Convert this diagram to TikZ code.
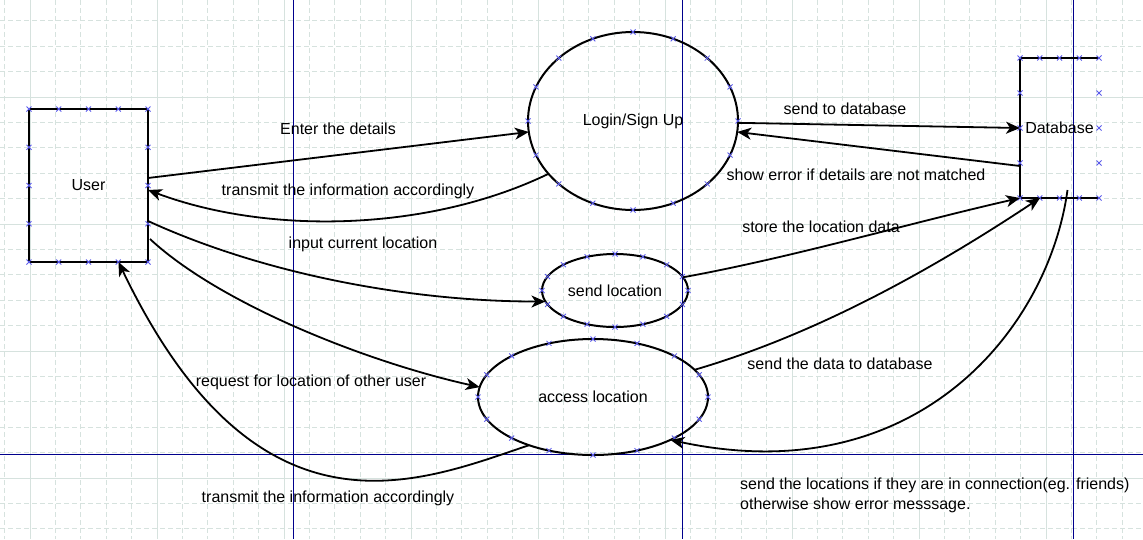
\documentclass[tikz,border=0pt]{standalone}
\usepackage{fontspec}
\setmainfont{Liberation Sans}
\usetikzlibrary{arrows.meta,shapes.geometric,calc}

\definecolor{gridline}{RGB}{214,226,222}
\definecolor{guideblue}{RGB}{0,0,140}
\definecolor{pinblue}{RGB}{90,90,235}

\tikzset{
  proc/.style={ellipse, draw, line width=2pt, inner sep=0pt, outer sep=0pt},
  flow/.style={line width=1.8pt, -{Stealth[length=14pt,width=12pt,inset=4pt]}},
  lbl/.style={inner sep=0pt, text height=11.5pt, text depth=3.5pt},
  pics/pin/.style={code={\draw[pinblue, line width=0.8pt] (-2.5,-2.5) -- (2.5,2.5) (-2.5,2.5) -- (2.5,-2.5);}}
}

\begin{document}
\begin{tikzpicture}[x=1pt, y=-1pt, font=\fontsize{16}{20}\selectfont]
			\useasboundingbox (0,0) rectangle (1143,539);
			% Grid
			\foreach \i in {0,...,44} {
				\draw[gridline, line width=1pt, dash pattern=on 5pt off 3pt] ({4.6+25.4*\i},0) -- ++(0,539);
			}
			\foreach \j in {0,...,20} {
				\draw[gridline, line width=1pt, dash pattern=on 5pt off 3pt] (0,{20.8+25.4*\j}) -- ++(1143,0);
			}
			\foreach \i in {0,...,8} {
				\draw[gridline, line width=1pt] ({30+127*\i},0) -- ++(0,539);
			}
			\foreach \j in {0,...,3} {
				\draw[gridline, line width=1pt] (0,{97+127*\j}) -- ++(1143,0);
			}
			\foreach \gx in {293.3,682.7,1073.3} {
				\draw[guideblue, line width=1pt] (\gx,0) -- ++(0,539);
			}
			\draw[guideblue, line width=1pt] (0,454) -- ++(1143,0);

			% Nodes
			\node[draw, line width=2pt, minimum width=119pt, minimum height=153pt, inner sep=0pt, outer sep=0pt] (user) at (88.5,185.5) {User};
			\node[proc, minimum width=210pt, minimum height=178pt] (login) at (633,121) {Login/Sign Up};
			\node[proc, minimum width=146pt, minimum height=73pt] (sendloc) at (615,290.5) {send location};
			\node[proc, minimum width=230pt, minimum height=116pt] (access) at (593,397) {access location};
			\node[minimum width=79pt, minimum height=140pt, inner sep=0pt, outer sep=0pt] (db) at (1059.5,128) {Database};
			\draw[line width=2pt] (db.north east) -- (db.north west) -- (db.south west) -- (db.south east);

			% Pins
			\foreach \n/\rx/\ry in {login/105/89, sendloc/73/36.5, access/115/58} {
				\foreach \a in {0,22.5,...,337.5} {
					\pic at ($(\n)+({\rx*cos(\a)},{\ry*sin(\a)})$) {pin};
				}
			}
			\foreach \n in {user, db} {
				\foreach \t in {0,0.25,0.5,0.75,1} {
					\pic at ($(\n.north west)!\t!(\n.north east)$) {pin};
					\pic at ($(\n.south west)!\t!(\n.south east)$) {pin};
				}
				\foreach \t in {0.25,0.5,0.75} {
					\pic at ($(\n.north west)!\t!(\n.south west)$) {pin};
					\pic at ($(\n.north east)!\t!(\n.south east)$) {pin};
				}
			}

			% Flows
			\draw[flow] ([yshift=7.5pt]user.east) -- (login.186.5);
			\draw[flow] (login.212) .. controls +(-120,58) and +(120,45) .. ([yshift=-4.5pt]user.east);
			\draw[flow] ([yshift=-35.5pt]user.east) .. controls +(120,55) and +(-130,0) .. (sendloc.189);
			\draw[flow] ([xshift=2pt,yshift=-53.5pt]user.east) .. controls +(70,65) and +(-113,-25) .. (access.175);
			\draw[flow] (access.217) .. controls +(-110,37) and +(139,290) .. ([xshift=30pt]user.south);
			\draw[flow] (login.-1) -- (db.west);
			\draw[flow] ([yshift=-38pt]db.west) -- (login.-6);
			\draw[flow] (sendloc.11) .. controls +(110,-20) and +(-110,25) .. (db.south west);
			\draw[flow] (access.15) .. controls +(120,-35) and +(-110,73) .. ([xshift=-19.5pt]db.south);
			\draw[flow] ([xshift=8pt,yshift=8pt]db.south) .. controls +(-19,139) and +(246,53) .. (access.-29);

			% Labels
			\node[lbl] (lEnter) at (338,130) {Enter the details};
			\node[lbl] (lTransTop) at (348,191) {transmit the information accordingly};
			\node[lbl] (lInput) at (363,244) {input current location};
			\node[lbl] (lRequest) at (311,382) {request for location of other user};
			\node[lbl] (lTransBot) at (328,498) {transmit the information accordingly};
			\node[lbl] (lSend) at (845,110) {send to database};
			\node[lbl] (lError) at (856,176) {show error if details are not matched};
			\node[lbl] (lStore) at (821,228) {store the location data};
			\node[lbl] (lData) at (840,365) {send the data to database};
			\node[inner sep=0pt, anchor=west, align=left] (lReply) at (740,495) {send the locations if they are in connection(eg. friends)\\otherwise show error messsage.};
		\end{tikzpicture}
\end{document}
